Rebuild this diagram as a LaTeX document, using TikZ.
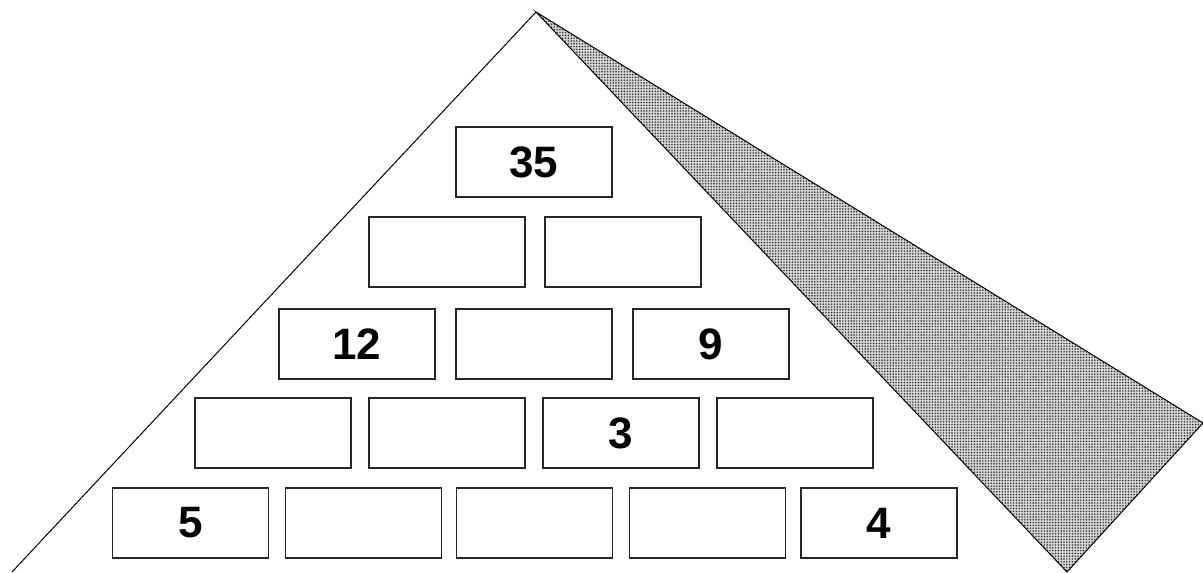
\documentclass[tikz,border=0pt]{standalone}
\usepackage{fontspec}
\setmainfont{Liberation Sans}
\usetikzlibrary{patterns.meta}
\begin{document}
\begin{tikzpicture}[x=0.75pt,y=-0.75pt,
  brick/.style={draw=black!85, line width=0.8pt, minimum width=156*0.75pt, minimum height=70*0.75pt, inner sep=0pt, font=\fontsize{33}{38}\selectfont\bfseries},
  edge/.style={draw=black, line width=0.75pt}]
\useasboundingbox (0,0) rectangle (1203,573);
\coordinate (apex) at (536,12);
\coordinate (leftfoot) at (12,572);
\coordinate (rtip) at (1203,423);
\coordinate (bfoot) at (1067,572);
\fill[gray!35] (apex) -- (rtip) -- (bfoot) -- cycle;
\fill[pattern={Dots[distance=2.1pt, radius=0.6pt]}, pattern color=black!85] (apex) -- (rtip) -- (bfoot) -- cycle;
\draw[edge] (apex) -- (rtip) -- (bfoot) -- cycle;
\draw[edge] (apex) -- (leftfoot);
% row 1
\node[brick] (r1a) at (534,162) {35};
% row 2
\node[brick] (r2a) at (447,252) {};
\node[brick] (r2b) at (623,252) {};
% row 3
\node[brick] (r3a) at (357,344) {12};
\node[brick] (r3b) at (534,344) {};
\node[brick] (r3c) at (711,344) {9};
% row 4
\node[brick] (r4a) at (273,433) {};
\node[brick] (r4b) at (447,433) {};
\node[brick] (r4c) at (621,433) {3};
\node[brick] (r4d) at (795,433) {};
% row 5
\node[brick] (r5a) at (190.5,523) {5};
\node[brick] (r5b) at (363.5,523) {};
\node[brick] (r5c) at (534.5,523) {};
\node[brick] (r5d) at (707.5,523) {};
\node[brick] (r5e) at (879,523) {4};
\end{tikzpicture}
\end{document}
